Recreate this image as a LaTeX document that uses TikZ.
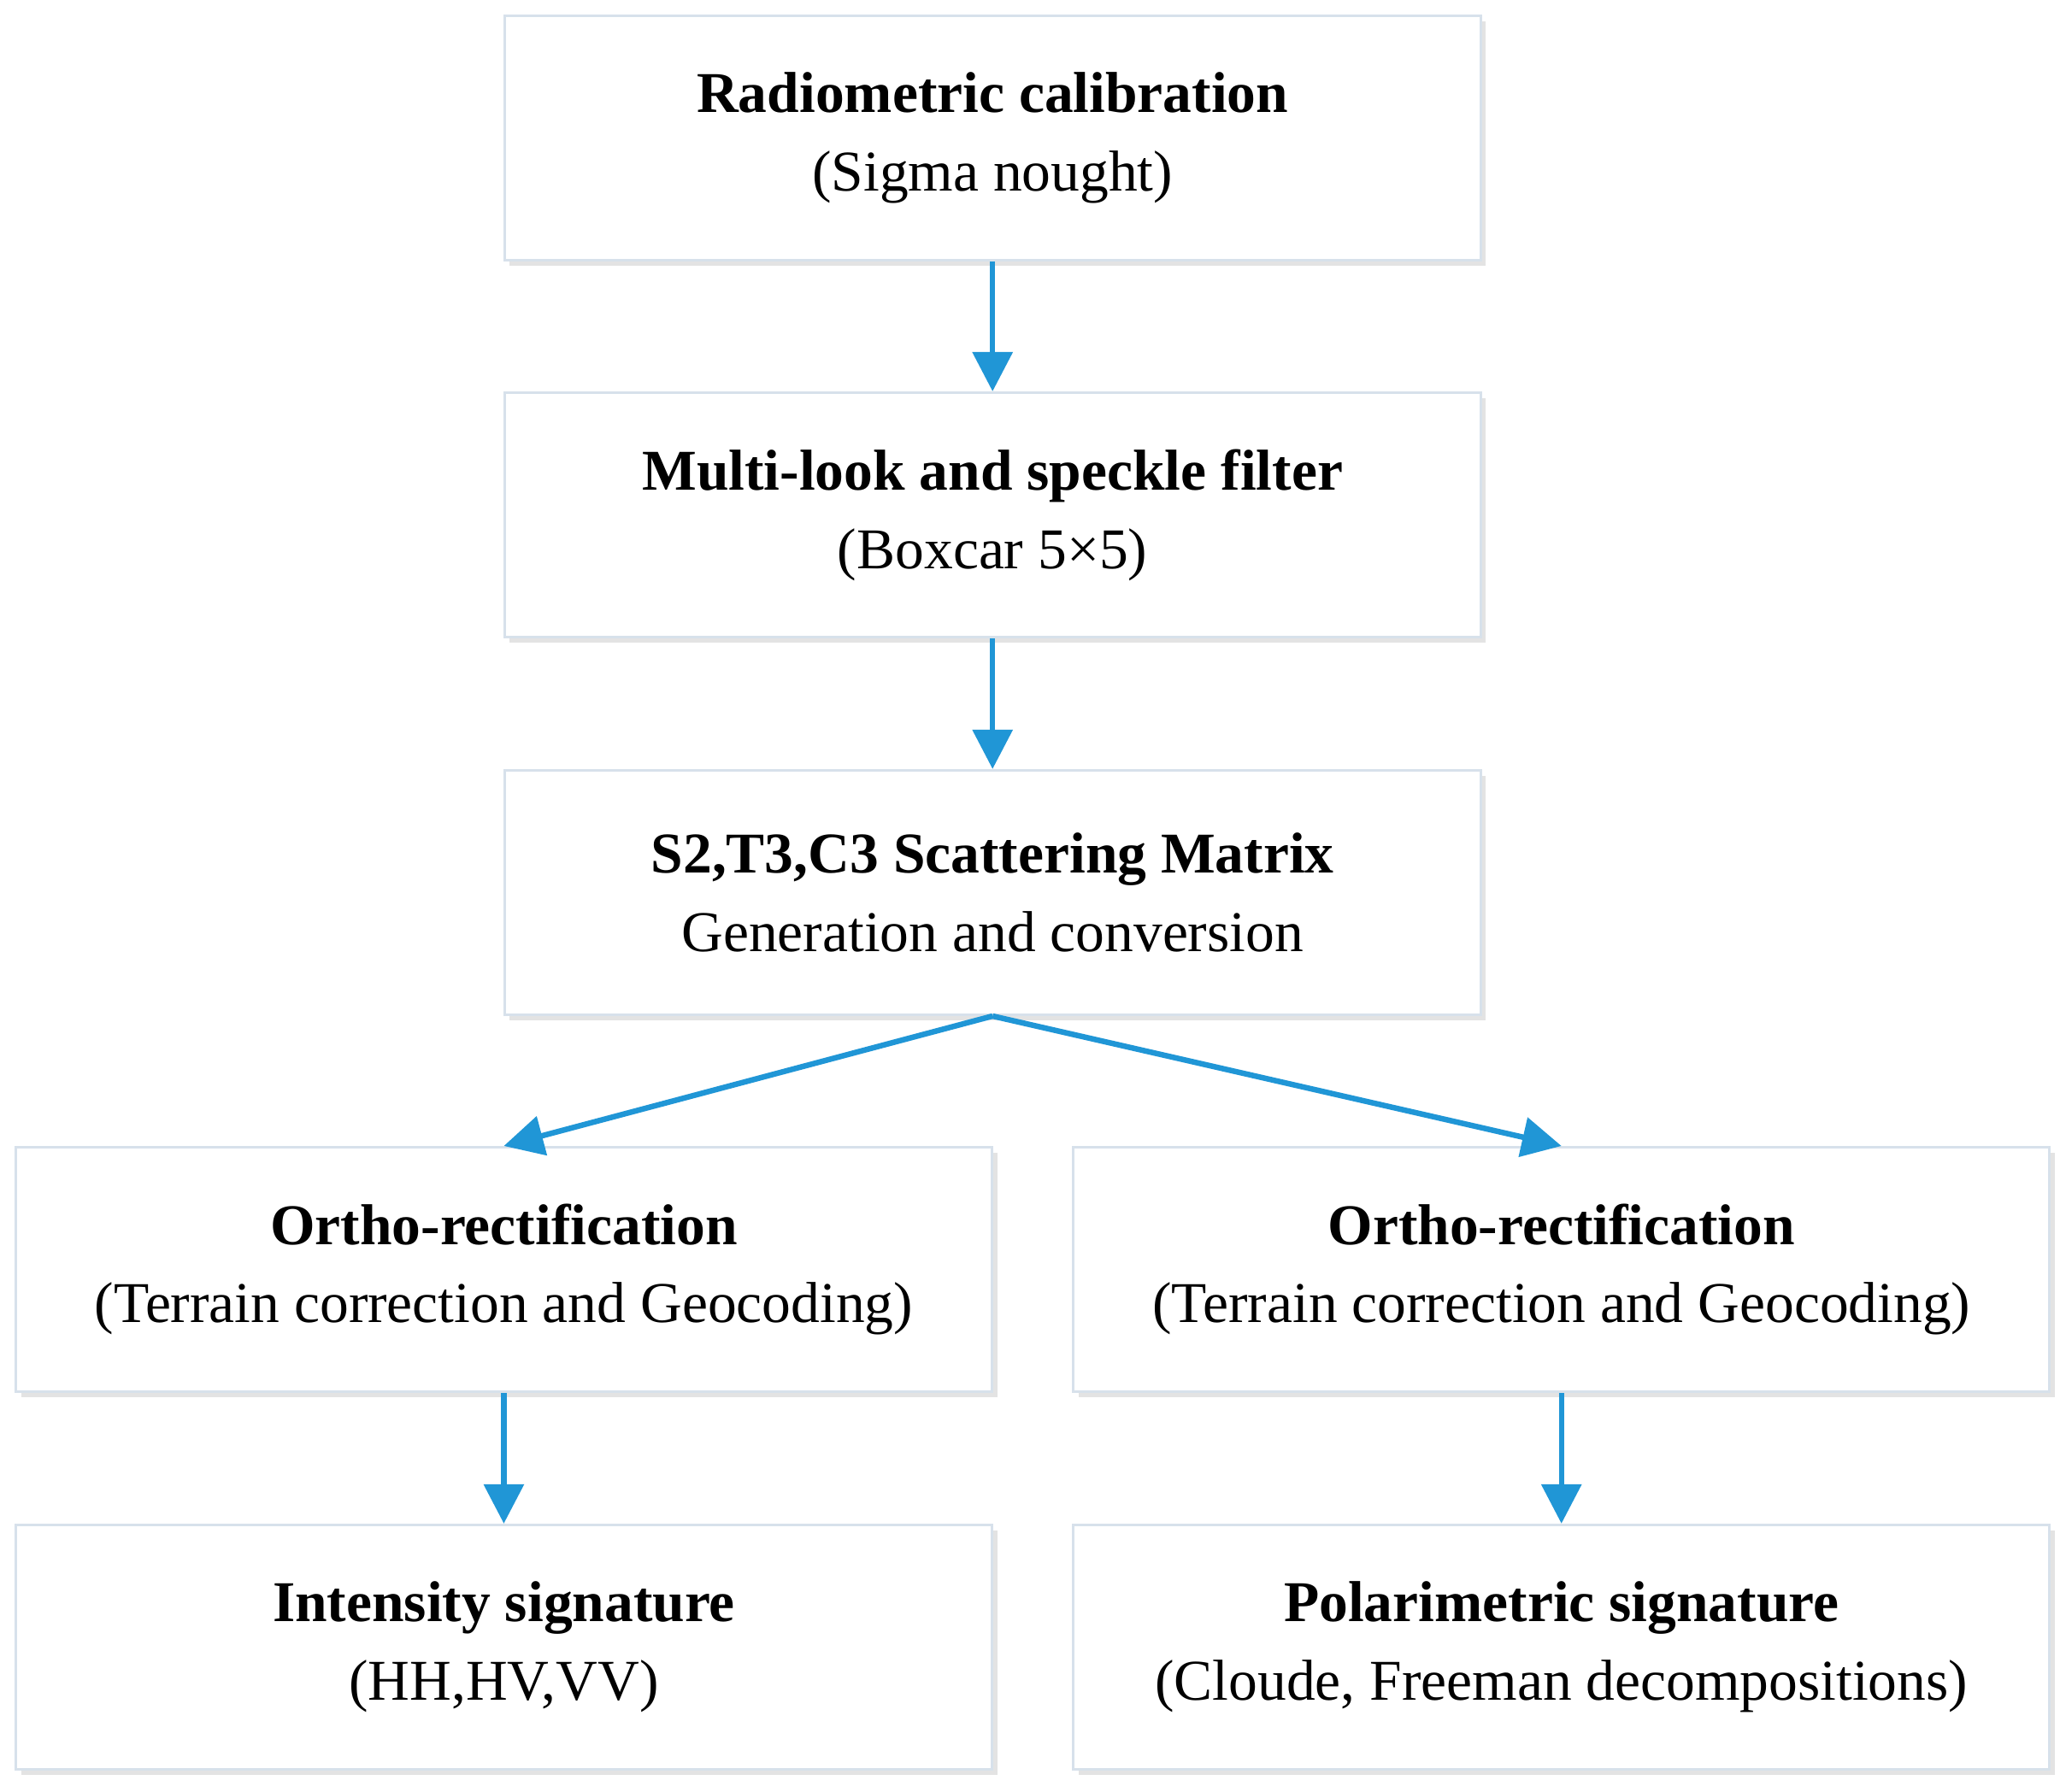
\documentclass[tikz,border=0pt]{standalone}
\usepackage{fontspec}
\setmainfont{Liberation Serif}
\usetikzlibrary{arrows.meta,shadows}
\definecolor{arrblue}{RGB}{32,150,214}
\definecolor{boxline}{RGB}{215,225,235}
\tikzset{
  pbox/.style={draw=boxline,line width=0.6pt,fill=white,minimum width=7.43cm,minimum height=1.86cm,align=center,inner sep=0pt,
    drop shadow={shadow xshift=0.04cm,shadow yshift=-0.04cm,fill=black!18,opacity=0.6},font=\fontsize{12.5}{17}\selectfont},
  conn/.style={draw=arrblue,line width=1.2pt,-{Triangle[length=0.3cm,width=0.3cm]}}
}
\begin{document}
\begin{tikzpicture}
\useasboundingbox[fill=white] (0,0) rectangle (15.68,-13.64);
\node[pbox] (b1) at (7.555,-1.05) {\textbf{Radiometric calibration}\\(Sigma nought)};
\node[pbox] (b2) at (7.555,-3.92) {\textbf{Multi-look and speckle filter}\\(Boxcar 5×5)};
\node[pbox] (b3) at (7.555,-6.795) {\textbf{S2,T3,C3 Scattering Matrix}\\Generation and conversion};
\node[pbox] (l1) at (3.835,-9.665) {\textbf{Ortho-rectification}\\(Terrain correction and Geocoding)};
\node[pbox] (r1) at (11.885,-9.665) {\textbf{Ortho-rectification}\\(Terrain correction and Geocoding)};
\node[pbox] (l2) at (3.835,-12.54) {\textbf{Intensity signature}\\(HH,HV,VV)};
\node[pbox] (r2) at (11.885,-12.54) {\textbf{Polarimetric signature}\\(Cloude, Freeman decompositions)};
\draw[conn] (b1.south) -- (b2.north);
\draw[conn] (b2.south) -- (b3.north);
\draw[conn] (b3.south) -- (l1.north);
\draw[conn] (b3.south) -- (r1.north);
\draw[conn] (l1.south) -- (l2.north);
\draw[conn] (r1.south) -- (r2.north);
\end{tikzpicture}
\end{document}
